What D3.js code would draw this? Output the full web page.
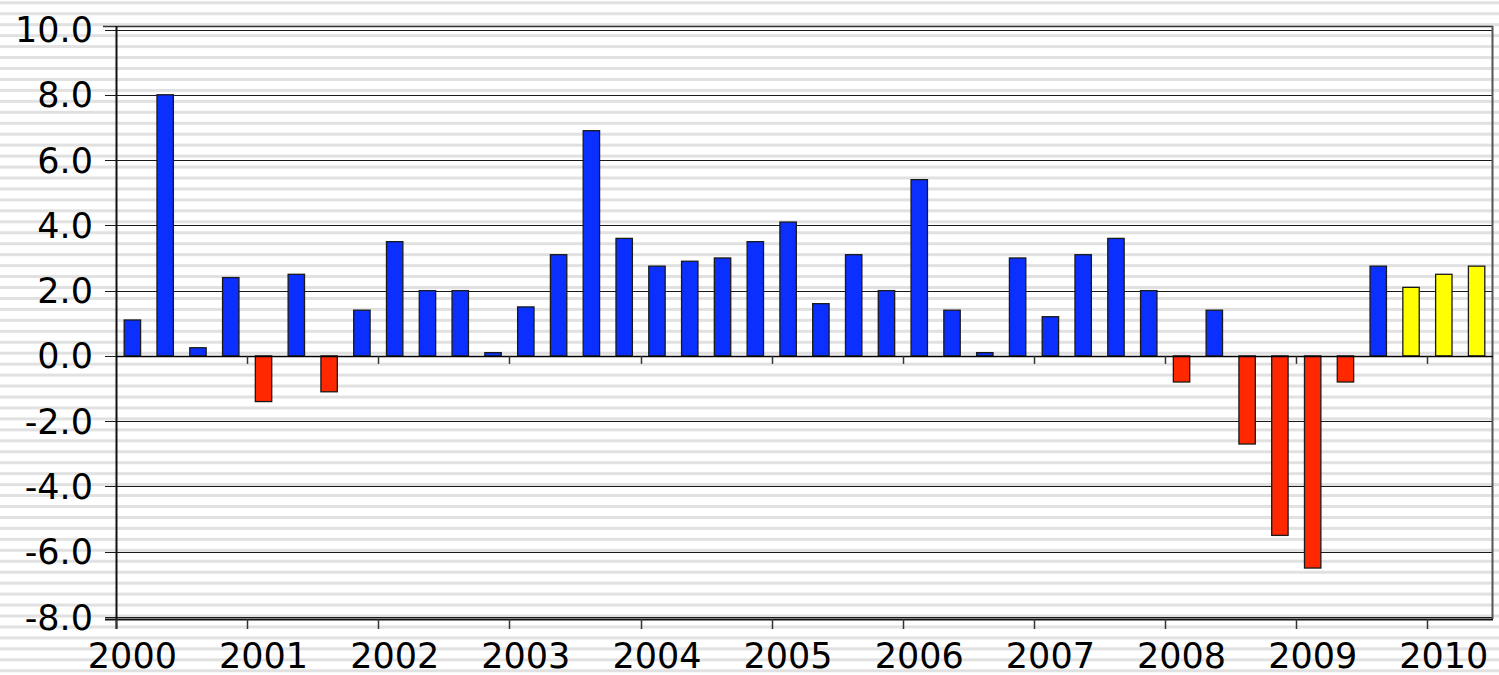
<!DOCTYPE html>
<html>
<head>
<meta charset="utf-8">
<script src="https://cdn.jsdelivr.net/npm/d3@7"></script>
<style>
  html, body { margin: 0; padding: 0; background: #ffffff; }
  svg { display: block; }
  text { font-family: "DejaVu Sans", Verdana, sans-serif; fill: #000; }
</style>
</head>
<body>
<svg id="chart" width="1499" height="675"></svg>
<script>
// ---- data ----
const categories = [
  "2000Q1","2000Q2","2000Q3","2000Q4",
  "2001Q1","2001Q2","2001Q3","2001Q4",
  "2002Q1","2002Q2","2002Q3","2002Q4",
  "2003Q1","2003Q2","2003Q3","2003Q4",
  "2004Q1","2004Q2","2004Q3","2004Q4",
  "2005Q1","2005Q2","2005Q3","2005Q4",
  "2006Q1","2006Q2","2006Q3","2006Q4",
  "2007Q1","2007Q2","2007Q3","2007Q4",
  "2008Q1","2008Q2","2008Q3","2008Q4",
  "2009Q1","2009Q2","2009Q3","2009Q4",
  "2010Q1","2010Q2"
];
const values = [
  1.1, 8.0, 0.25, 2.4,
  -1.4, 2.5, -1.1, 1.4,
  3.5, 2.0, 2.0, 0.1,
  1.5, 3.1, 6.9, 3.6,
  2.75, 2.9, 3.0, 3.5,
  4.1, 1.6, 3.1, 2.0,
  5.4, 1.4, 0.1, 3.0,
  1.2, 3.1, 3.6, 2.0,
  -0.8, 1.4, -2.7, -5.5,
  -6.5, -0.8, 2.75, 2.1,
  2.5, 2.75
];
const forecastQuarters = ["2009Q4", "2010Q1", "2010Q2"];
const yearLabels = ["2000","2001","2002","2003","2004","2005","2006","2007","2008","2009","2010"];
const yTicks = [-8, -6, -4, -2, 0, 2, 4, 6, 8, 10];

// ---- layout ----
const W = 1499, H = 675;
const plotL = 116, plotR = 1493, plotT = 26, plotB = 619;
const svg = d3.select("#chart");

// striped background
svg.append("g").selectAll("rect")
  .data(d3.range(0, Math.ceil(H / 10.95) + 1))
  .join("rect")
  .attr("x", 0)
  .attr("width", W)
  .attr("y", d => 1.3 + d * 10.95)
  .attr("height", 3)
  .attr("fill", "#e1e1e1");

const x = d3.scaleBand()
  .domain(categories)
  .range([plotL, plotR])
  .paddingInner(0.5)
  .paddingOuter(0.25);

const y = d3.scaleLinear()
  .domain([-8, 10])
  .range([617, 29.5]);

const step = x.step();

// gridlines
svg.append("g")
  .selectAll("line")
  .data(yTicks)
  .join("line")
  .attr("x1", plotL - 11)
  .attr("x2", plotR)
  .attr("y1", d => Math.round(y(d)) + 0.5)
  .attr("y2", d => Math.round(y(d)) + 0.5)
  .attr("stroke", "#1a1a1a")
  .attr("stroke-width", 1.2);

// frame
const frame = svg.append("g").attr("fill", "none");
frame.append("line").attr("x1", plotL - 13).attr("x2", plotR).attr("y1", plotT + 0.5).attr("y2", plotT + 0.5)
  .attr("stroke", "#333").attr("stroke-width", 1.5);
frame.append("line").attr("x1", plotR - 0.5).attr("x2", plotR - 0.5).attr("y1", plotT).attr("y2", plotB)
  .attr("stroke", "#555").attr("stroke-width", 2);
frame.append("line").attr("x1", plotL - 11).attr("x2", plotR).attr("y1", plotB + 0.5).attr("y2", plotB + 0.5)
  .attr("stroke", "#111").attr("stroke-width", 2);
frame.append("line").attr("x1", plotL + 0.5).attr("x2", plotL + 0.5).attr("y1", plotT).attr("y2", plotB + 10)
  .attr("stroke", "#111").attr("stroke-width", 2);

// bars
const colorOf = (d, i) => forecastQuarters.includes(categories[i]) ? "#ffff00" : (d < 0 ? "#ff2800" : "#0a2fff");
svg.append("g")
  .selectAll("rect")
  .data(values)
  .join("rect")
  .attr("x", (d, i) => x(categories[i]))
  .attr("width", x.bandwidth())
  .attr("y", d => y(Math.max(0, d)))
  .attr("height", d => Math.abs(y(d) - y(0)))
  .attr("fill", colorOf)
  .attr("stroke", "#1a1a1a")
  .attr("stroke-width", 1.3);

// zero line on top
svg.append("line")
  .attr("x1", plotL).attr("x2", plotR)
  .attr("y1", Math.round(y(0)) + 0.5).attr("y2", Math.round(y(0)) + 0.5)
  .attr("stroke", "#000").attr("stroke-width", 1.5);

// year boundary ticks
const yearIdx = yearLabels.map(yr => categories.indexOf(yr + "Q1"));
const tickX = i => plotL + i * step;
const tickG = svg.append("g").attr("stroke", "#333").attr("stroke-width", 1.5);
tickG.selectAll("line.zero")
  .data(yearIdx.filter(i => i > 0))
  .join("line")
  .attr("class", "zero")
  .attr("x1", i => Math.round(tickX(i)) + 0.5)
  .attr("x2", i => Math.round(tickX(i)) + 0.5)
  .attr("y1", y(0))
  .attr("y2", y(0) + 8);
tickG.selectAll("line.bottom")
  .data(yearIdx)
  .join("line")
  .attr("class", "bottom")
  .attr("x1", i => Math.round(tickX(i)) + 0.5)
  .attr("x2", i => Math.round(tickX(i)) + 0.5)
  .attr("y1", plotB)
  .attr("y2", plotB + 10);

// y labels (ASCII hyphen minus as in the original)
svg.append("g")
  .selectAll("text")
  .data(yTicks)
  .join("text")
  .attr("x", 93)
  .attr("y", d => y(d))
  .attr("dy", "0.36em")
  .attr("text-anchor", "end")
  .attr("font-size", 35)
  .text(d => d.toFixed(1));

// x labels
svg.append("g")
  .selectAll("text")
  .data(yearLabels)
  .join("text")
  .attr("x", yr => x(yr + "Q1") + x.bandwidth() / 2)
  .attr("y", 668)
  .attr("text-anchor", "middle")
  .attr("font-size", 35)
  .text(yr => yr);
</script>
</body>
</html>
